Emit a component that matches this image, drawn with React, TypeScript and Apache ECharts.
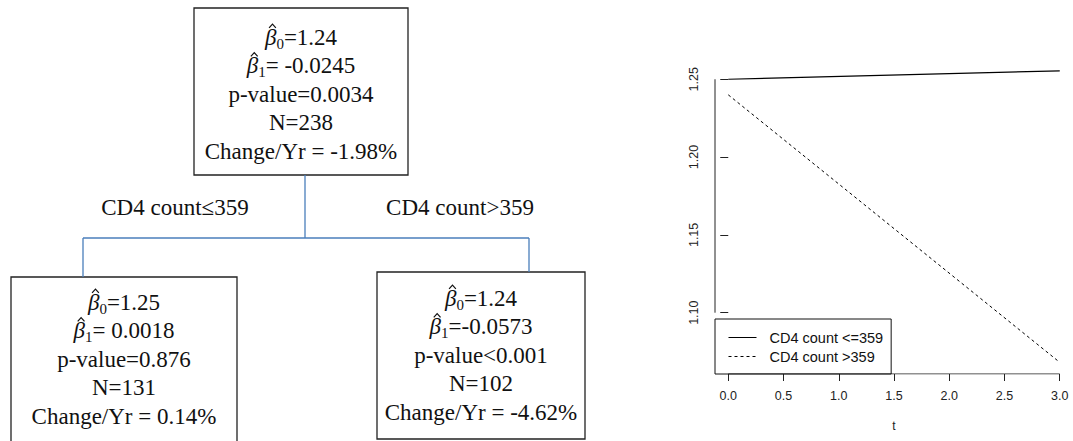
import React, { useEffect, useRef } from 'react';
import * as echarts from 'echarts';

// Regression tree node summaries: root, CD4 <= 359, CD4 > 359
const nodeBeta0 = ['1.24', '1.25', '1.24'];
const nodeBeta1 = [' -0.0245', ' 0.0018', '-0.0573'];
const nodePValue = ['=0.0034', '=0.876', '<0.001'];
const nodeN = ['238', '131', '102'];
const nodeChange = [' = -1.98%', ' = 0.14%', ' = -4.62%'];
const splitLabels = ['CD4 count\u2264359', 'CD4 count>359'];

// Fitted trajectories over time (years)
const timeYears = [0, 3];
const lowCD4Fit = [1.25, 1.2554];
const highCD4Fit = [1.24, 1.0681];
const seriesNames = ['CD4 count <=359', 'CD4 count >359'];
const xTicks = [0, 0.5, 1, 1.5, 2, 2.5, 3];
const yTicks = [1.1, 1.15, 1.2, 1.25];

// Box geometry for the tree (left, top, width, height, text centre x, first text line y)
const boxLayout = [
  { x: 194, y: 8, w: 214, h: 167, cx: 301, ty: 37 },
  { x: 11, y: 277, w: 226, h: 190, cx: 124, ty: 302 },
  { x: 377, y: 272, w: 208, h: 167, cx: 481, ty: 298 },
];
const lineStep = 28.5;

const serif = "'Liberation Serif', 'Times New Roman', 'DejaVu Serif', serif";
const sans = "'Liberation Sans', Arial, Helvetica, sans-serif";
const ink = '#111';
const connector = '#4a7ebb';
const mainSize = 23;
const subSize = 15;

let measureCtx: CanvasRenderingContext2D | null = null;
function measure(text: string, font: string) {
  if (!measureCtx) measureCtx = document.createElement('canvas').getContext('2d');
  if (!measureCtx) return text.length * 10;
  measureCtx.font = font;
  return measureCtx.measureText(text).width;
}

function expand(vals: number[]) {
  const lo = Math.min(...vals);
  const hi = Math.max(...vals);
  const pad = (hi - lo) * 0.04;
  return [lo - pad, hi + pad];
}

const richStyles = {
  b: { fontFamily: serif, fontStyle: 'italic', fontSize: mainSize, fill: ink },
  s: { fontFamily: serif, fontSize: subSize, fill: ink, lineHeight: 28, padding: [13, 0, 0, 0] },
  v: { fontFamily: serif, fontSize: mainSize, fill: ink },
};

function textLine(cx: number, y: number, text: string, rich = false) {
  return {
    type: 'text',
    x: cx,
    y,
    silent: true,
    style: {
      text,
      fontFamily: serif,
      fontSize: mainSize,
      fill: ink,
      align: 'center',
      verticalAlign: 'middle',
      textAlign: 'center',
      textVerticalAlign: 'middle',
      ...(rich ? { rich: richStyles } : {}),
    },
  };
}

// Estimated coefficient line: italic beta with a hat accent, subscript index, then the value
function betaLine(cx: number, y: number, index: string, value: string) {
  const wB = measure('\u03B2', `italic ${mainSize}px ${serif}`);
  const wS = measure(index, `${subSize}px ${serif}`);
  const wV = measure(value, `${mainSize}px ${serif}`);
  const startX = cx - (wB + wS + wV) / 2;
  const hx = startX + wB * 0.66;
  const hy = y - 11;
  return [
    textLine(cx, y, `{b|\u03B2}{s|${index}}{v|${value}}`, true),
    {
      type: 'polyline',
      silent: true,
      shape: {
        points: [
          [hx - 3.4, hy + 1.9],
          [hx, hy - 1.9],
          [hx + 3.4, hy + 1.9],
        ],
      },
      style: { stroke: ink, lineWidth: 1.2, fill: 'none', lineJoin: 'miter' },
    },
  ];
}

function treeGraphics() {
  const els: any[] = [];
  boxLayout.forEach((b, i) => {
    els.push({
      type: 'rect',
      silent: true,
      shape: { x: b.x, y: b.y, width: b.w, height: b.h },
      style: { fill: 'none', stroke: '#222', lineWidth: 1.3 },
    });
    els.push(...betaLine(b.cx, b.ty, '0', `=${nodeBeta0[i]}`));
    els.push(...betaLine(b.cx, b.ty + lineStep, '1', `=${nodeBeta1[i]}`));
    els.push(textLine(b.cx, b.ty + lineStep * 2, `p-value${nodePValue[i]}`));
    els.push(textLine(b.cx, b.ty + lineStep * 3, `N=${nodeN[i]}`));
    els.push(textLine(b.cx, b.ty + lineStep * 4, `Change/Yr${nodeChange[i]}`));
  });
  const root = boxLayout[0];
  const left = boxLayout[1];
  const right = boxLayout[2];
  const rootX = 305;
  const leftX = 83;
  const rightX = 529;
  const barY = 238;
  const seg = (x1: number, y1: number, x2: number, y2: number) => ({
    type: 'line',
    silent: true,
    shape: { x1, y1, x2, y2 },
    style: { stroke: connector, lineWidth: 1.3 },
  });
  els.push(seg(rootX, root.y + root.h, rootX, barY));
  els.push(seg(leftX, barY, rightX, barY));
  els.push(seg(leftX, barY, leftX, left.y));
  els.push(seg(rightX, barY, rightX, right.y));
  els.push(textLine(175, 207, splitLabels[0]));
  els.push(textLine(460, 207, splitLabels[1]));
  return els;
}

export default function App() {
  const ref = useRef<HTMLDivElement>(null);

  useEffect(() => {
    if (!ref.current) return;
    const chart = echarts.init(ref.current, null, { renderer: 'svg' });
    const [xMin, xMax] = expand(timeYears);
    const [yMin, yMax] = expand([...lowCD4Fit, ...highCD4Fit]);
    const xFirst = xTicks[0];
    const xLast = xTicks[xTicks.length - 1];
    const yFirst = yTicks[0];
    const yLast = yTicks[yTicks.length - 1];

    chart.setOption({
      animation: false,
      grid: { left: 715, top: 59.2, width: 359.3, height: 314.8, containLabel: false },
      xAxis: {
        type: 'value',
        min: xMin,
        max: xMax,
        name: 't',
        nameLocation: 'middle',
        nameGap: 46,
        nameTextStyle: { fontFamily: sans, fontSize: 12, color: '#222' },
        axisLine: { show: false },
        splitLine: { show: false },
        axisTick: { show: true, length: 7, customValues: xTicks, lineStyle: { color: '#222', width: 1 } },
        axisLabel: {
          customValues: xTicks,
          formatter: (v: number) => v.toFixed(1),
          margin: 15,
          fontFamily: sans,
          fontSize: 12.5,
          color: '#222',
        },
      },
      yAxis: {
        type: 'value',
        min: yMin,
        max: yMax,
        axisLine: { show: false },
        splitLine: { show: false },
        axisTick: { show: true, length: 8, customValues: yTicks, lineStyle: { color: '#222', width: 1 } },
        axisLabel: {
          customValues: yTicks,
          formatter: (v: number) => v.toFixed(2),
          rotate: 90,
          margin: 15,
          fontFamily: sans,
          fontSize: 12.5,
          color: '#222',
        },
      },
      legend: {
        data: seriesNames,
        orient: 'vertical',
        left: 715,
        top: 319,
        itemWidth: 28,
        itemHeight: 14,
        itemGap: 4,
        padding: [11, 8, 10, 13],
        borderColor: '#111',
        borderWidth: 1,
        selectedMode: false,
        itemStyle: { opacity: 0 },
        lineStyle: { width: 1 },
        textStyle: { fontFamily: sans, fontSize: 14.5, color: '#111', padding: [0, 0, 0, 8] },
      },
      series: [
        {
          name: seriesNames[0],
          type: 'line',
          data: timeYears.map((t, i) => [t, lowCD4Fit[i]]),
          symbol: 'none',
          lineStyle: { color: '#000', width: 1.2, type: 'solid' },
          itemStyle: { color: '#000' },
        },
        {
          name: seriesNames[1],
          type: 'line',
          data: timeYears.map((t, i) => [t, highCD4Fit[i]]),
          symbol: 'none',
          lineStyle: { color: '#000', width: 1, type: [3, 3] },
          itemStyle: { color: '#000' },
        },
        {
          name: 'x-axis',
          type: 'line',
          silent: true,
          data: [[xFirst, yMin], [xLast, yMin]],
          symbol: 'none',
          lineStyle: { color: '#222', width: 1 },
        },
        {
          name: 'y-axis',
          type: 'line',
          silent: true,
          data: [[xMin, yFirst], [xMin, yLast]],
          symbol: 'none',
          lineStyle: { color: '#222', width: 1 },
        },
      ],
      graphic: treeGraphics(),
    });
    return () => chart.dispose();
  }, []);

  return (
    <div
      ref={ref}
      style={{ position: 'fixed', left: 0, top: 0, width: 1073, height: 441, background: '#fff' }}
    />
  );
}
